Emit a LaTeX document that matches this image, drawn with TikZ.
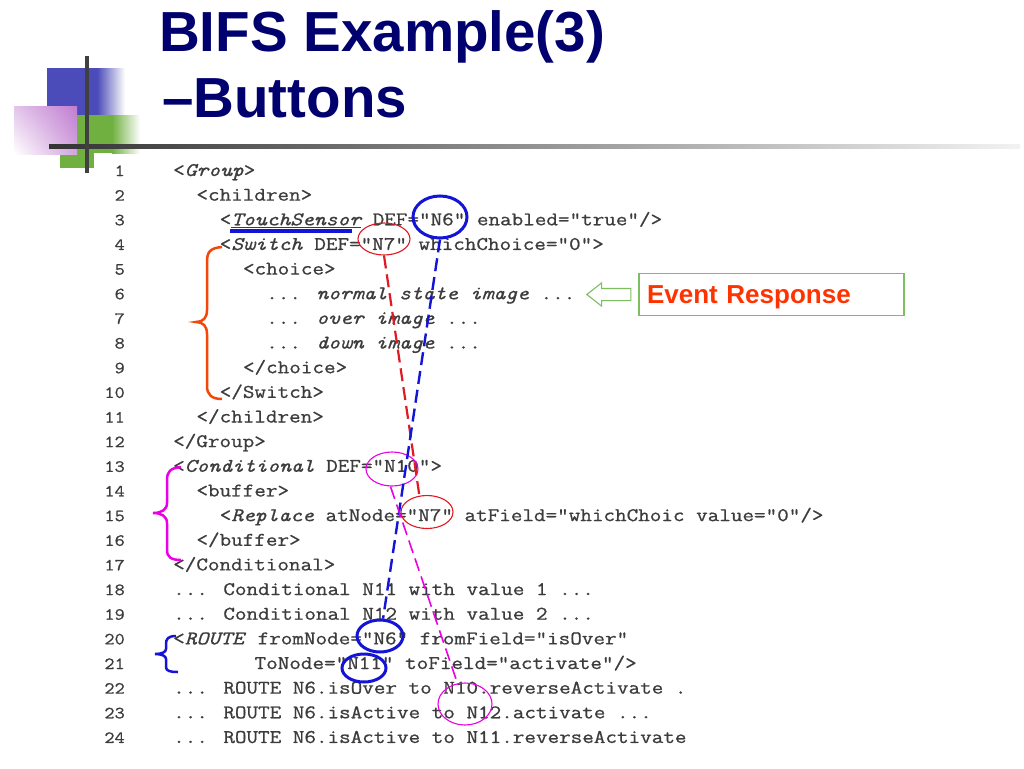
\documentclass[tikz,border=0pt]{standalone}
\usepackage{fontspec}
\setmainfont{Liberation Sans}
\newfontfamily\codefont[FakeStretch=1.165, FakeBold=0.8]{Latin Modern Mono}
\usetikzlibrary{positioning,shapes.geometric,shapes.arrows,shadings}

\definecolor{titleblue}{RGB}{0,0,110}
\definecolor{codegray}{RGB}{60,60,60}
\definecolor{markblue}{RGB}{20,20,215}
\definecolor{markred}{RGB}{225,25,35}
\definecolor{markmag}{RGB}{235,0,230}
\definecolor{braceorange}{RGB}{245,70,10}
\definecolor{respred}{RGB}{255,51,0}
\definecolor{respgreen}{RGB}{125,190,95}
\definecolor{sqblue}{RGB}{75,75,185}
\definecolor{sqgreen}{RGB}{112,176,64}
\definecolor{sqpink}{RGB}{192,125,208}

\tikzset{
  code/.style={anchor=base west, inner sep=0pt, text=codegray,
    font=\codefont\fontsize{19.3}{22}\selectfont},
  lnum/.style={anchor=base east, inner sep=0pt, text=codegray,
    font=\codefont\fontsize{17}{20}\selectfont},
  titletext/.style={anchor=base west, inner sep=0pt, text=titleblue,
    font=\bfseries\fontsize{56.5}{60}\selectfont},
  ring/.style={ellipse, draw, inner sep=0pt},
  bluering/.style={ring, draw=markblue, line width=3pt},
  redring/.style={ring, draw=markred, line width=1.1pt},
  magring/.style={ring, draw=markmag, line width=1.1pt},
  bluedash/.style={markblue, line width=2.4pt, dash pattern=on 13pt off 6pt},
  reddash/.style={markred, line width=2.2pt, dash pattern=on 13pt off 6pt},
  magdash/.style={markmag, line width=1.6pt, dash pattern=on 13pt off 6pt},
  respbox/.style={draw=respgreen, line width=1.3pt, text=respred,
    minimum height=42pt, text width=249pt, inner sep=8pt, align=left,
    text height=18.5pt, text depth=0pt,
    font=\bfseries\fontsize{26}{28}\selectfont},
  evarrow/.style={single arrow, draw=respgreen, line width=1.1pt,
    shape border rotate=180, minimum height=44pt, minimum width=22pt,
    single arrow head extend=5.5pt, single arrow tip angle=76,
    inner xsep=0pt, inner ysep=5.5pt}
}

\begin{document}
\begin{tikzpicture}[x=1pt, y=-1pt]
    \useasboundingbox (0,0) rectangle (1024,768);
    \fill[white] (0,0) rectangle (1024,768);

    % Corner squares
    \fill[sqblue] (47,68) rectangle (97,115);
    \shade[left color=sqblue, right color=white] (97,68) rectangle (125,115);
    \fill[sqgreen] (77,115) rectangle (112,153);
    \shade[left color=sqgreen, right color=white] (112,115) rectangle (140,153);
    \fill[sqgreen] (60,153) rectangle (94,168);
    \shade[upper left=sqpink!45!white, upper right=sqpink, lower left=white,
      lower right=sqpink!70!white] (14,106) rectangle (77,154);

    % Title rules
    \shade[left color=black!80, right color=black!5] (49,144) rectangle (1020,148);
    \draw[line width=4pt, black!75] (87,56) -- (87,173);

    % Title
    \node[titletext] (title) at (159,52) {BIFS Example(3)};
    \node[titletext] (title2) at (162,117) {--Buttons};

    % Listing
    \def\cx{173}
    \def\cw{11.63}
    \def\lh{24.65}
    \foreach \k in {1,...,24}
      \node[lnum] (ln\k) at (125, 176+\k*\lh-\lh) {\k};

    \node[code] (c1) at (\cx, 176) {<\textit{Group}>};
    \node[code] (c2) at (\cx+2*\cw, 176+1*\lh) {<children>};
    \node[code] (c3) at (\cx+4*\cw, 176+2*\lh) {<\textit{\underline{TouchSensor}} DEF="N6" enabled="true"/>};
    \node[code] (c4) at (\cx+4*\cw, 176+3*\lh) {<\textit{Switch} DEF="N7" whichChoice="0">};
    \node[code] (c5) at (\cx+6*\cw, 176+4*\lh) {<choice>};
    \node[code] (c6) at (\cx+8*\cw, 176+5*\lh) {... \textit{normal state image} ...};
    \node[code] (c7) at (\cx+8*\cw, 176+6*\lh) {... \textit{over image} ...};
    \node[code] (c8) at (\cx+8*\cw, 176+7*\lh) {... \textit{down image} ...};
    \node[code] (c9) at (\cx+6*\cw, 176+8*\lh) {</choice>};
    \node[code] (c10) at (\cx+4*\cw, 176+9*\lh) {</Switch>};
    \node[code] (c11) at (\cx+2*\cw, 176+10*\lh) {</children>};
    \node[code] (c12) at (\cx, 176+11*\lh) {</Group>};
    \node[code] (c13) at (\cx, 176+12*\lh) {<\textit{Conditional} DEF="N10">};
    \node[code] (c14) at (\cx+2*\cw, 176+13*\lh) {<buffer>};
    \node[code] (c15) at (\cx+4*\cw, 176+14*\lh) {<\textit{Replace} atNode="N7" atField="whichChoic value="0"/>};
    \node[code] (c16) at (\cx+2*\cw, 176+15*\lh) {</buffer>};
    \node[code] (c17) at (\cx, 176+16*\lh) {</Conditional>};
    \node[code] (c18) at (\cx, 176+17*\lh) {... Conditional N11 with value 1 ...};
    \node[code] (c19) at (\cx, 176+18*\lh) {... Conditional N12 with value 2 ...};
    \node[code] (c20) at (\cx, 176+19*\lh) {<\textit{ROUTE} fromNode="N6" fromField="isOver"};
    \node[code] (c21) at (\cx+7*\cw, 176+20*\lh) {ToNode="N11" toField="activate"/>};
    \node[code] (c22) at (\cx, 176+21*\lh) {... ROUTE N6.isOver to N10.reverseActivate .};
    \node[code] (c23) at (\cx, 176+22*\lh) {... ROUTE N6.isActive to N12.activate ...};
    \node[code] (c24) at (\cx, 176+23*\lh) {... ROUTE N6.isActive to N11.reverseActivate};

    % Marks on the node names
    \draw[markblue, line width=3.5pt] (230,231) -- (352,231);
    \node[bluering, minimum width=54pt, minimum height=42pt] (n6a) at (440,217) {};
    \node[redring, minimum width=52pt, minimum height=32pt] (n7a) at (384,239) {};
    \node[magring, minimum width=52pt, minimum height=34pt] (n10a) at (392,469) {};
    \node[redring, minimum width=52pt, minimum height=33pt] (n7b) at (427,512) {};
    \node[bluering, minimum width=46pt, minimum height=32pt] (n6b) at (380,636) {};
    \node[bluering, minimum width=44pt, minimum height=28pt] (n11) at (364,668) {};
    \node[magring, minimum width=54pt, minimum height=42pt] (n10b) at (465,704) {};

    \draw[reddash] (n7a.south) -- (n7b.115);
    \draw[bluedash] (n6a.south) -- (n6b.80);
    \draw[magdash] (n10a.265) -- (n10b.110);

    % Braces
    \draw[braceorange, line width=2.5pt] (222,247) .. controls (210,248) and (207,252) .. (207,262)
      -- (207,310) .. controls (207,318) and (203,322) .. (196,322)
      .. controls (203,322) and (207,326) .. (207,334) -- (207,386)
      .. controls (207,395) and (212,399) .. (222,399);
    \draw[markmag, line width=2.5pt] (181,467) .. controls (170,468) and (167,472) .. (167,480)
      -- (167,503) .. controls (167,510) and (161,513) .. (153,513)
      .. controls (161,513) and (167,516) .. (167,523) -- (167,550)
      .. controls (167,557) and (171,560) .. (181,560);
    \draw[markblue, line width=2.5pt] (176,636) .. controls (168,636) and (166,639) .. (166,644)
      -- (166,649) .. controls (166,652) and (162,654) .. (155,654)
      .. controls (162,654) and (166,656) .. (166,659) -- (166,667)
      .. controls (166,671) and (170,672) .. (178,672);

    % Event response
    \node[respbox] (resp) at (771.5,294.5) {Event Response};
    \node[evarrow, left=7pt of resp] (arr) {};
\end{tikzpicture}
\end{document}
